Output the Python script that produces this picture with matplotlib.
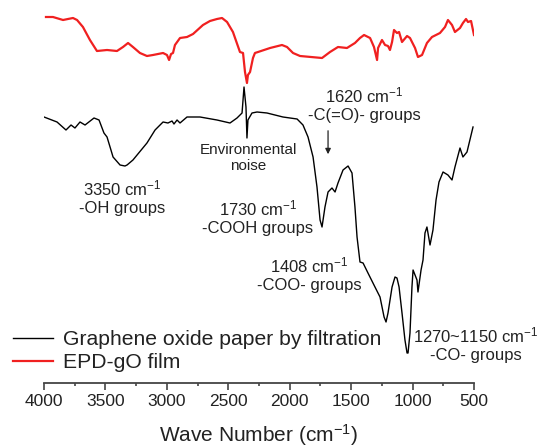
import matplotlib
matplotlib.use("Agg")
import matplotlib.pyplot as plt
import numpy as np

plt.rcParams['font.family'] = ['Liberation Sans', 'DejaVu Sans']
plt.rcParams['mathtext.fontset'] = 'custom'
plt.rcParams['mathtext.rm'] = 'Liberation Sans'
plt.rcParams['mathtext.it'] = 'Liberation Sans'

# graphene oxide paper (black), transmittance in arbitrary units
go_wn = [4000, 3894, 3821, 3780, 3748, 3707, 3666, 3593, 3552, 3512, 3487, 3455,
         3438, 3381, 3341, 3324, 3276, 3162, 3096, 3031, 2991, 2958, 2942, 2917,
         2893, 2836, 2730, 2592, 2486, 2429, 2388, 2372, 2356, 2348, 2340, 2307,
         2266, 2185, 2055, 1940, 1892, 1851, 1810, 1778, 1753, 1737, 1713, 1688,
         1656, 1631, 1607, 1566, 1525, 1493, 1469, 1452, 1428, 1403, 1363, 1306,
         1265, 1232, 1216, 1200, 1167, 1143, 1127, 1110, 1086, 1062, 1045, 1037,
         1021, 1005, 996, 964, 956, 931, 915, 899, 883, 858, 834, 809, 785, 752,
         712, 679, 655, 614, 590, 557, 508]
go_t = [283, 278, 270, 275, 272, 278, 275, 282, 280, 267, 263, 250,
        243, 235, 234, 235, 240, 257, 270, 278, 277, 279, 276, 280,
        277, 283, 283, 280, 277, 282, 287, 313, 293, 262, 280, 287,
        288, 287, 283, 281, 275, 263, 243, 213, 180, 173, 193, 208,
        212, 208, 217, 230, 234, 227, 193, 163, 138, 137, 127, 113,
        103, 83, 78, 87, 113, 123, 122, 113, 87, 60, 47, 47,
        67, 113, 130, 120, 108, 130, 140, 167, 173, 155, 170, 200,
        218, 228, 225, 220, 233, 252, 243, 248, 273]

# EPD-gO film (red)
epd_wn = [3984, 3927, 3845, 3805, 3764, 3731, 3683, 3626, 3569, 3487, 3406, 3357,
          3316, 3276, 3219, 3162, 3113, 3031, 2999, 2982, 2966, 2950, 2934, 2893,
          2836, 2787, 2706, 2649, 2592, 2551, 2510, 2462, 2405, 2380, 2364, 2348,
          2340, 2323, 2299, 2283, 2258, 2160, 2063, 2022, 1973, 1916, 1737, 1672,
          1607, 1534, 1469, 1428, 1395, 1346, 1314, 1289, 1281, 1249, 1224, 1200,
          1184, 1167, 1151, 1127, 1110, 1086, 1045, 1021, 980, 956, 923, 883,
          842, 777, 736, 712, 679, 655, 614, 590, 565, 549, 524, 500]
epd_t = [383, 383, 380, 381, 382, 380, 373, 360, 349, 350, 349, 353,
         357, 353, 347, 344, 345, 347, 345, 340, 346, 347, 355, 362,
         363, 366, 375, 379, 381, 382, 378, 368, 348, 347, 328, 317,
         325, 328, 342, 347, 348, 352, 355, 353, 347, 344, 342, 348,
         353, 352, 357, 362, 365, 362, 353, 340, 352, 360, 355, 354,
         350, 358, 370, 367, 368, 358, 364, 362, 352, 343, 345, 357,
         363, 367, 373, 380, 375, 368, 372, 377, 381, 378, 379, 365]

fig = plt.figure(figsize=(5.43, 4.47), dpi=100)
ax = fig.add_axes([44 / 543, 64 / 447, 430 / 543, 383 / 447])

ax.plot(go_wn, go_t, color='black', lw=1.0, label='Graphene oxide paper by filtration')
ax.plot(epd_wn, epd_t, color='#f02020', lw=1.6, label='EPD-gO film')

ax.set_xlim(4000, 500)
ax.set_ylim(17, 400)
ax.set_xticks(np.arange(4000, 499, -500))
ax.set_xticks(np.arange(3750, 500, -500), minor=True)
ax.set_yticks([])
for s in ['left', 'right', 'top']:
    ax.spines[s].set_visible(False)
ax.spines['bottom'].set_color('#444444')
ax.spines['bottom'].set_linewidth(1.3)
ax.tick_params(axis='x', which='major', direction='out', length=5, width=1.2,
               color='#444444', labelsize=12.5, pad=3, labelcolor='#222222')
ax.tick_params(axis='x', which='minor', direction='out', length=2.5, width=1.2,
               color='#444444')
ax.set_xlabel('Wave Number (cm$^{-1}$)', fontsize=15, color='#222222', labelpad=9)
ax.patch.set_alpha(0)

tk = dict(fontsize=12, color='#222222', ha='center', va='center', linespacing=1.25)
ax.text(3365, 203, '3350 cm$^{-1}$\n-OH groups', **tk)
ax.text(2339, 242, 'Environmental\nnoise', fontsize=11, color='#222222',
        ha='center', va='center', linespacing=1.2)
ax.text(1395, 296, '1620 cm$^{-1}$\n-C(=O)- groups', **tk)
ax.text(2258, 183, '1730 cm$^{-1}$\n-COOH groups', **tk)
ax.text(1843, 126, '1408 cm$^{-1}$\n-COO- groups', **tk)
ax.text(484, 56, '1270~1150 cm$^{-1}$\n-CO- groups', clip_on=False, **tk)
ax.annotate('', xy=(1688, 243), xytext=(1688, 272),
            arrowprops=dict(arrowstyle='-|>', color='#222222', lw=0.9,
                            mutation_scale=8))

fig.legend(loc='lower left', bbox_to_anchor=(2 / 543, (447 - 383) / 447),
           frameon=False, fontsize=15.2, handlelength=1.9, handletextpad=0.5,
           labelspacing=0.2, borderpad=0, labelcolor='#222222')

fig.savefig('out.png', dpi=100)
